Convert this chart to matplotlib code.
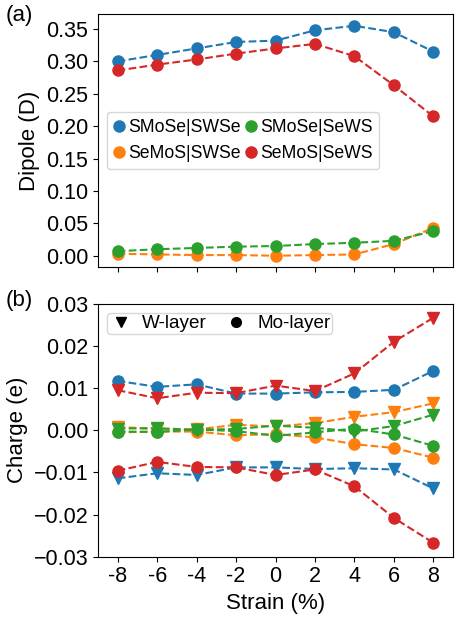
import matplotlib
matplotlib.use('Agg')
import matplotlib.pyplot as plt
from matplotlib.lines import Line2D
import numpy as np

plt.rcParams.update({'font.family': ['Liberation Sans', 'DejaVu Sans'], 'font.size': 15.5})

strain = [-8, -6, -4, -2, 0, 2, 4, 6, 8]
strain_labels = ['-8', '-6', '-4', '-2', '0', '2', '4', '6', '8']
names = ['SMoSe|SWSe', 'SeMoS|SWSe', 'SMoSe|SeWS', 'SeMoS|SeWS']
colors = ['#1f77b4', '#ff7f0e', '#2ca02c', '#d62728']

# (a) dipole (D)
dip_smose_swse = [0.300, 0.310, 0.320, 0.330, 0.332, 0.348, 0.355, 0.345, 0.315]
dip_semos_swse = [0.003, 0.002, 0.001, 0.001, 0.000, 0.001, 0.002, 0.018, 0.043]
dip_smose_sews = [0.007, 0.010, 0.012, 0.014, 0.015, 0.018, 0.020, 0.023, 0.038]
dip_semos_sews = [0.286, 0.295, 0.303, 0.312, 0.320, 0.327, 0.308, 0.263, 0.215]
dipoles = [dip_smose_swse, dip_semos_swse, dip_smose_sews, dip_semos_sews]

# (b) charge (e), W-layer and Mo-layer
w_smose_swse = [-0.0114, -0.0102, -0.0106, -0.0088, -0.0088, -0.0092, -0.0090, -0.0093, -0.0138]
mo_smose_swse = [0.0117, 0.0103, 0.0109, 0.0087, 0.0087, 0.0090, 0.0091, 0.0096, 0.0141]
w_semos_swse = [0.0008, 0.0003, 0.0002, 0.0013, 0.0009, 0.0017, 0.0032, 0.0043, 0.0064]
mo_semos_swse = [-0.0005, -0.0003, -0.0003, -0.0012, -0.0009, -0.0017, -0.0033, -0.0042, -0.0065]
w_smose_sews = [0.0004, 0.0005, 0.0001, 0.0003, 0.0011, 0.0006, -0.0003, 0.0010, 0.0037]
mo_smose_sews = [-0.0003, -0.0004, 0.0002, -0.0002, -0.0013, -0.0005, 0.0004, -0.0010, -0.0037]
w_semos_sews = [0.0095, 0.0076, 0.0089, 0.0088, 0.0106, 0.0093, 0.0135, 0.0210, 0.0267]
mo_semos_sews = [-0.0096, -0.0075, -0.0087, -0.0088, -0.0106, -0.0093, -0.0133, -0.0208, -0.0267]
w_charge = [w_smose_swse, w_semos_swse, w_smose_sews, w_semos_sews]
mo_charge = [mo_smose_swse, mo_semos_swse, mo_smose_sews, mo_semos_sews]

fig = plt.figure(figsize=(4.6, 6.2), dpi=100)
axA = fig.add_axes([0.213, 0.569, 0.772, 0.408])
axB = fig.add_axes([0.213, 0.102, 0.772, 0.408])

for i, name in enumerate(names):
    axA.plot(strain, dipoles[i], '--o', color=colors[i], lw=1.5, ms=8)
handles = [Line2D([], [], ls='none', marker='o', color=colors[i], ms=8) for i in range(4)]
axA.legend(handles, names, loc='center left', ncol=2, fontsize=12.7,
           handlelength=0.6, handletextpad=0.2, columnspacing=0.3)
axA.set_ylabel('Dipole (D)', fontsize=16)
axA.set_xlim(-9, 9)
axA.set_xticks(strain)
axA.set_xticklabels([])
axA.set_yticks(np.arange(0, 0.36, 0.05))

for i in range(4):
    axB.plot(strain, w_charge[i], '--v', color=colors[i], lw=1.5, ms=8)
    axB.plot(strain, mo_charge[i], '--o', color=colors[i], lw=1.5, ms=8)
hb = [Line2D([], [], ls='none', marker='v', color='black', ms=7),
      Line2D([], [], ls='none', marker='o', color='black', ms=7)]
axB.legend(hb, ['W-layer', 'Mo-layer'], loc='upper left', ncol=2, fontsize=13.6,
           borderpad=0.1, handlelength=1.2, handletextpad=0.5, columnspacing=1.0)
axB.set_xlim(-9, 9)
axB.set_ylim(-0.03, 0.03)
axB.set_yticks(np.arange(-0.03, 0.031, 0.01))
axB.set_xticks(strain)
axB.set_xticklabels(strain_labels)
axB.set_xlabel('Strain (%)', fontsize=16)
axB.set_ylabel('Charge (e)', fontsize=16)

fig.text(0.012, 0.975, '(a)', fontsize=16, va='center')
fig.text(0.012, 0.515, '(b)', fontsize=16, va='center')

fig.savefig('out.png', dpi=100)
